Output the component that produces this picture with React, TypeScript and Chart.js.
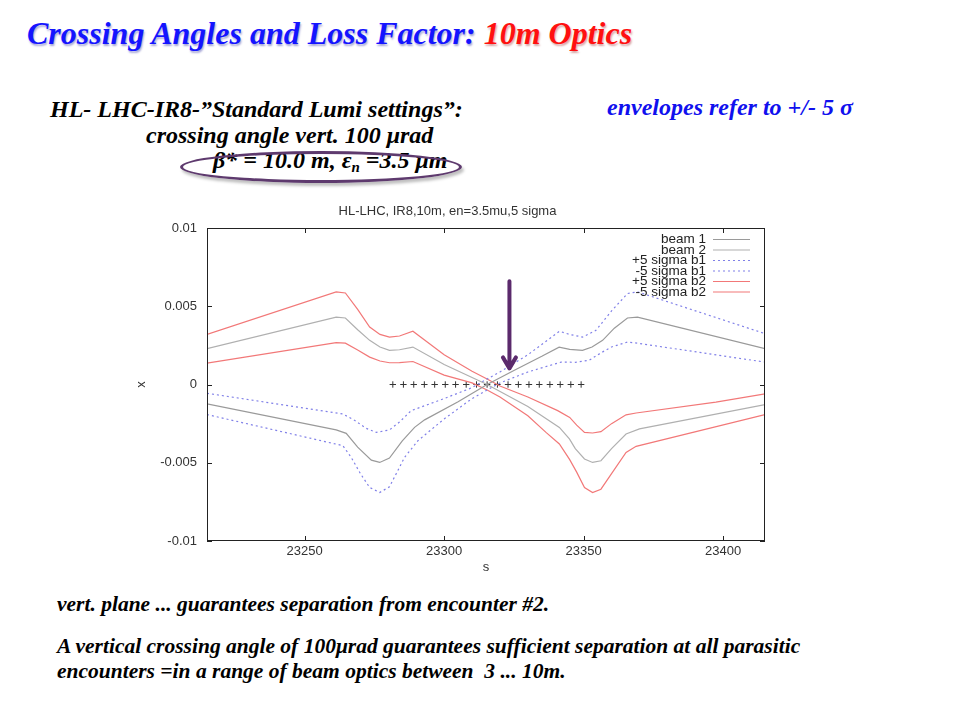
import React, { useEffect, useRef } from "react";
import { Chart, registerables } from "chart.js";

Chart.register(...registerables);

// ---------- data ----------
const sRange = [23215, 23415];
const xRange = [-0.01, 0.01];
const sTicks = [23250, 23300, 23350, 23400];
const xTicks = [-0.01, -0.005, 0, 0.005, 0.01];
const xTickLabels = ["-0.01", "-0.005", "0", "0.005", "0.01"];

const beam1S = [23215, 23261.3, 23264.9, 23269, 23273.9, 23276.9, 23280.4, 23285, 23289.4, 23293, 23305, 23315.4, 23325, 23335, 23341.2, 23345, 23349.6, 23353, 23356.8, 23361, 23365.7, 23369.3, 23415];
const beam1X = [-0.00124, -0.0029, -0.00312, -0.004, -0.00483, -0.00498, -0.0047, -0.0036, -0.00274, -0.00226, -0.0011, 0, 0.0009, 0.0018, 0.00239, 0.00225, 0.00218, 0.0024, 0.00282, 0.0036, 0.00425, 0.00431, 0.00229];

const beam2S = [23215, 23261.3, 23264.6, 23269, 23273.3, 23277, 23280.4, 23284, 23288.8, 23300, 23315.4, 23330, 23341.3, 23344.9, 23347, 23350.3, 23353.2, 23356.2, 23360, 23365.2, 23370, 23415];
const beam2X = [0.00229, 0.00431, 0.00425, 0.0035, 0.00282, 0.0024, 0.00218, 0.00222, 0.00239, 0.00128, 0, -0.0014, -0.00274, -0.00348, -0.0041, -0.00476, -0.00498, -0.00487, -0.0041, -0.00316, -0.00284, -0.00128];

const b1PlusS = [23215, 23263.7, 23268, 23272, 23275.7, 23280.4, 23284, 23288.2, 23300, 23310, 23315.4, 23320, 23330, 23341.3, 23345, 23349.6, 23354.4, 23360, 23365.7, 23369.3, 23415];
const b1PlusX = [-0.00056, -0.00188, -0.0023, -0.0028, -0.00306, -0.0029, -0.0024, -0.00167, -0.0009, -0.0002, 0.00035, 0.0008, 0.0019, 0.0034, 0.0032, 0.00303, 0.00346, 0.0047, 0.00581, 0.00592, 0.00325];

const b1MinusS = [23215, 23263.7, 23266.7, 23270, 23273.3, 23276.9, 23280.4, 23285.8, 23290.6, 23300, 23310, 23315.4, 23320, 23330, 23341.9, 23347, 23352, 23356, 23360, 23365.7, 23369.3, 23415];
const b1MinusX = [-0.00192, -0.00391, -0.00466, -0.0057, -0.00658, -0.0069, -0.00654, -0.00466, -0.00359, -0.0022, -0.0009, -0.00035, 0.0001, 0.0008, 0.00143, 0.00142, 0.00155, 0.002, 0.0024, 0.00271, 0.00264, 0.00143];

const b2PlusS = [23215, 23261.3, 23264.6, 23269, 23273.3, 23277, 23280.4, 23284, 23288.8, 23300, 23310, 23315.4, 23320, 23330, 23340.7, 23345, 23347.5, 23350.3, 23353.2, 23356.2, 23360, 23365.2, 23368.8, 23397.4, 23415];
const b2PlusX = [0.0032, 0.00592, 0.00585, 0.0048, 0.00367, 0.0032, 0.00303, 0.0031, 0.0034, 0.0019, 0.00085, 0.00035, -0.0001, -0.0008, -0.00167, -0.0021, -0.0026, -0.00306, -0.0031, -0.00301, -0.0025, -0.00194, -0.00182, -0.00113, -0.0006];

const b2MinusS = [23215, 23261.3, 23264.6, 23269, 23273.3, 23277, 23280.4, 23284, 23288.8, 23300, 23310, 23315.4, 23320, 23330, 23336.5, 23341.3, 23345, 23347.5, 23350.3, 23353.2, 23356.2, 23360, 23365.2, 23368.8, 23415];
const b2MinusX = [0.00137, 0.00267, 0.00264, 0.0022, 0.00175, 0.0015, 0.00139, 0.0014, 0.00147, 0.0006, 0.0001, -0.00035, -0.0008, -0.002, -0.00306, -0.0038, -0.0048, -0.0056, -0.00658, -0.0069, -0.00669, -0.0057, -0.00434, -0.00395, -0.00192];

const encounterS = [23281.6, 23285.4, 23289.1, 23292.9, 23296.6, 23300.4, 23304.1, 23307.9, 23311.6, 23315.4, 23319.1, 23322.9, 23326.6, 23330.4, 23334.1, 23337.9, 23341.6, 23345.4, 23349.1];
const encounterX = [0, 0, 0, 0, 0, 0, 0, 0, 0, 0, 0, 0, 0, 0, 0, 0, 0, 0, 0];

const arrowS = 23323.4;
const arrowFrom = 0.0066;
const arrowTo = 0.00103;

const chartTitle = "HL-LHC, IR8,10m, en=3.5mu,5 sigma";

// ---------- helpers ----------
const pts = (s: number[], x: number[]) => s.map((v, i) => ({ x: v, y: x[i] }));
const FONT = '"Liberation Sans", Arial, sans-serif';

const overlayPlugin = {
  id: "overlay",
  afterDatasetsDraw(chart: any) {
    const { ctx, chartArea: a, scales } = chart;
    const sx = scales.x;
    const sy = scales.y;
    ctx.save();
    // frame
    ctx.strokeStyle = "#222";
    ctx.lineWidth = 1;
    ctx.setLineDash([]);
    ctx.strokeRect(a.left + 0.5, a.top + 0.5, a.right - a.left - 1, a.bottom - a.top - 1);
    // inward ticks
    ctx.beginPath();
    sTicks.forEach((v) => {
      const p = Math.round(sx.getPixelForValue(v)) + 0.5;
      ctx.moveTo(p, a.bottom);
      ctx.lineTo(p, a.bottom - 5);
      ctx.moveTo(p, a.top);
      ctx.lineTo(p, a.top + 5);
    });
    xTicks.forEach((v) => {
      const p = Math.round(sy.getPixelForValue(v)) + 0.5;
      ctx.moveTo(a.left, p);
      ctx.lineTo(a.left + 5, p);
      ctx.moveTo(a.right, p);
      ctx.lineTo(a.right - 5, p);
    });
    ctx.stroke();

    // arrow annotation
    const ax = sx.getPixelForValue(arrowS);
    const ay0 = sy.getPixelForValue(arrowFrom);
    const ay1 = sy.getPixelForValue(arrowTo);
    ctx.strokeStyle = "#5b2a6c";
    ctx.lineWidth = 4;
    ctx.lineCap = "round";
    ctx.lineJoin = "round";
    ctx.beginPath();
    ctx.moveTo(ax, ay0);
    ctx.lineTo(ax, ay1 - 1);
    ctx.moveTo(ax - 6.5, ay1 - 11);
    ctx.lineTo(ax, ay1);
    ctx.lineTo(ax + 6.5, ay1 - 11);
    ctx.stroke();

    // legend (inside top-right)
    ctx.font = `13.5px ${FONT}`;
    ctx.textAlign = "right";
    ctx.textBaseline = "middle";
    ctx.lineCap = "butt";
    const rows = chart.data.datasets.filter((d: any) => d.showLine);
    rows.forEach((d: any, i: number) => {
      const y = a.top + 11 + i * 10.5;
      ctx.fillStyle = "#222";
      ctx.fillText(d.label, a.right - 59, y + 0.5);
      ctx.strokeStyle = d.borderColor;
      ctx.lineWidth = d.borderWidth;
      ctx.setLineDash(d.borderDash || []);
      ctx.beginPath();
      ctx.moveTo(a.right - 52, y + 0.5);
      ctx.lineTo(a.right - 15, y + 0.5);
      ctx.stroke();
    });
    ctx.restore();
  },
};

function PlotCanvas() {
  const ref = useRef<HTMLCanvasElement | null>(null);
  useEffect(() => {
    if (!ref.current) return;
    const line = (label: string, s: number[], x: number[], color: string, dash?: number[]) => ({
      label,
      data: pts(s, x),
      showLine: true,
      borderColor: color,
      backgroundColor: color,
      borderWidth: 1.2,
      borderDash: dash || [],
      pointRadius: 0,
      tension: 0,
    });
    const chart = new Chart(ref.current, {
      type: "scatter",
      data: {
        datasets: [
          line("beam 1", beam1S, beam1X, "#9a9a9a"),
          line("beam 2", beam2S, beam2X, "#b0b0b0"),
          line("+5 sigma b1", b1PlusS, b1PlusX, "#8080e8", [2, 3]),
          line("-5 sigma b1", b1MinusS, b1MinusX, "#8080e8", [2, 3]),
          line("+5 sigma b2", b2PlusS, b2PlusX, "#f27878"),
          line("-5 sigma b2", b2MinusS, b2MinusX, "#f27878"),
          {
            label: "encounters",
            data: pts(encounterS, encounterX),
            showLine: false,
            pointStyle: "cross",
            pointRadius: 3.2,
            borderColor: "#333",
            borderWidth: 1,
          } as any,
        ],
      },
      options: {
        animation: false,
        responsive: false,
        maintainAspectRatio: false,
        layout: { padding: { left: 0, right: 77, top: 0, bottom: 0 } },
        plugins: {
          legend: { display: false },
          tooltip: { enabled: false },
          title: {
            display: true,
            text: chartTitle,
            color: "#333",
            font: { family: FONT, size: 13, weight: "normal" },
            padding: { top: 4, bottom: 8.4 },
          },
        },
        scales: {
          x: {
            type: "linear",
            min: sRange[0],
            max: sRange[1],
            afterBuildTicks: (sc: any) => {
              sc.ticks = sTicks.map((value) => ({ value }));
            },
            afterFit: (sc: any) => {
              sc.height = 39;
            },
            ticks: {
              callback: (v: any) => String(v),
              color: "#333",
              font: { family: FONT, size: 13 },
              padding: 3,
              maxRotation: 0,
            },
            grid: { display: false, drawTicks: false },
            border: { display: false },
            title: {
              display: true,
              text: "s",
              color: "#333",
              font: { family: FONT, size: 13 },
              padding: { top: 0, bottom: 5 },
            },
          },
          y: {
            type: "linear",
            min: xRange[0],
            max: xRange[1],
            afterBuildTicks: (sc: any) => {
              sc.ticks = xTicks.map((value) => ({ value }));
            },
            afterFit: (sc: any) => {
              sc.width = 77;
            },
            ticks: {
              callback: (v: any) => {
                const i = xTicks.findIndex((t) => Math.abs(t - v) < 1e-9);
                return i >= 0 ? xTickLabels[i] : "";
              },
              color: "#333",
              font: { family: FONT, size: 13 },
              padding: 10,
            },
            grid: { display: false, drawTicks: false },
            border: { display: false },
            title: {
              display: true,
              text: "x",
              color: "#333",
              font: { family: FONT, size: 13 },
              padding: { top: 4, bottom: 0 },
            },
          },
        },
      },
      plugins: [overlayPlugin],
    } as any);
    return () => chart.destroy();
  }, []);
  return (
    <canvas
      ref={ref}
      width={712}
      height={380}
      style={{ position: "absolute", left: 130, top: 200, width: 712, height: 380 }}
    />
  );
}

const serif = '"Liberation Serif", "Times New Roman", serif';

export default function App() {
  const txt = (extra: React.CSSProperties): React.CSSProperties => ({
    position: "absolute",
    fontFamily: serif,
    fontWeight: "bold",
    fontStyle: "italic",
    lineHeight: 1,
    whiteSpace: "nowrap",
    color: "#000",
    ...extra,
  });
  return (
    <div
      style={{
        position: "fixed",
        left: 0,
        top: 0,
        width: 960,
        height: 720,
        background: "#fff",
        overflow: "hidden",
      }}
    >
      <div
        style={txt({
          left: 27,
          top: 17,
          fontSize: 32,
          color: "#1414ff",
          textShadow: "1px 2px 2px rgba(0,0,140,0.35)",
        })}
      >
        Crossing Angles and Loss Factor: <span style={{ color: "#ff1010", textShadow: "1px 2px 2px rgba(140,0,0,0.35)" }}>10m Optics</span>
      </div>

      <div style={txt({ left: 50, top: 97, fontSize: 24 })}>HL- LHC-IR8-”Standard Lumi settings”:</div>
      <div style={txt({ left: 607, top: 95, fontSize: 24, color: "#1010ee" })}>envelopes refer to +/- 5 σ</div>
      <div style={txt({ left: 146, top: 123, fontSize: 24 })}>crossing angle vert. 100 μrad</div>
      <div style={txt({ left: 213, top: 148, fontSize: 24 })}>
        β* = 10.0 m, ε<sub style={{ fontSize: 15, verticalAlign: "-4px" }}>n</sub> =3.5 μm
      </div>
      <div
        style={{
          position: "absolute",
          left: 180,
          top: 151,
          width: 282,
          height: 32,
          border: "3px solid #5e3a6e",
          borderRadius: "50%",
          boxSizing: "border-box",
          boxShadow: "2px 3px 3px rgba(0,0,0,0.25)",
        }}
      />

      <PlotCanvas />

      <div style={txt({ left: 57, top: 594, fontSize: 21.5 })}>vert. plane ... guarantees separation from encounter #2.</div>
      <div style={txt({ left: 57, top: 636, fontSize: 21.5 })}>
        A vertical crossing angle of 100μrad guarantees sufficient separation at all parasitic
      </div>
      <div style={txt({ left: 57, top: 661, fontSize: 21.5 })}>
        encounters =in a range of beam optics between&nbsp; 3 ... 10m.
      </div>
    </div>
  );
}
